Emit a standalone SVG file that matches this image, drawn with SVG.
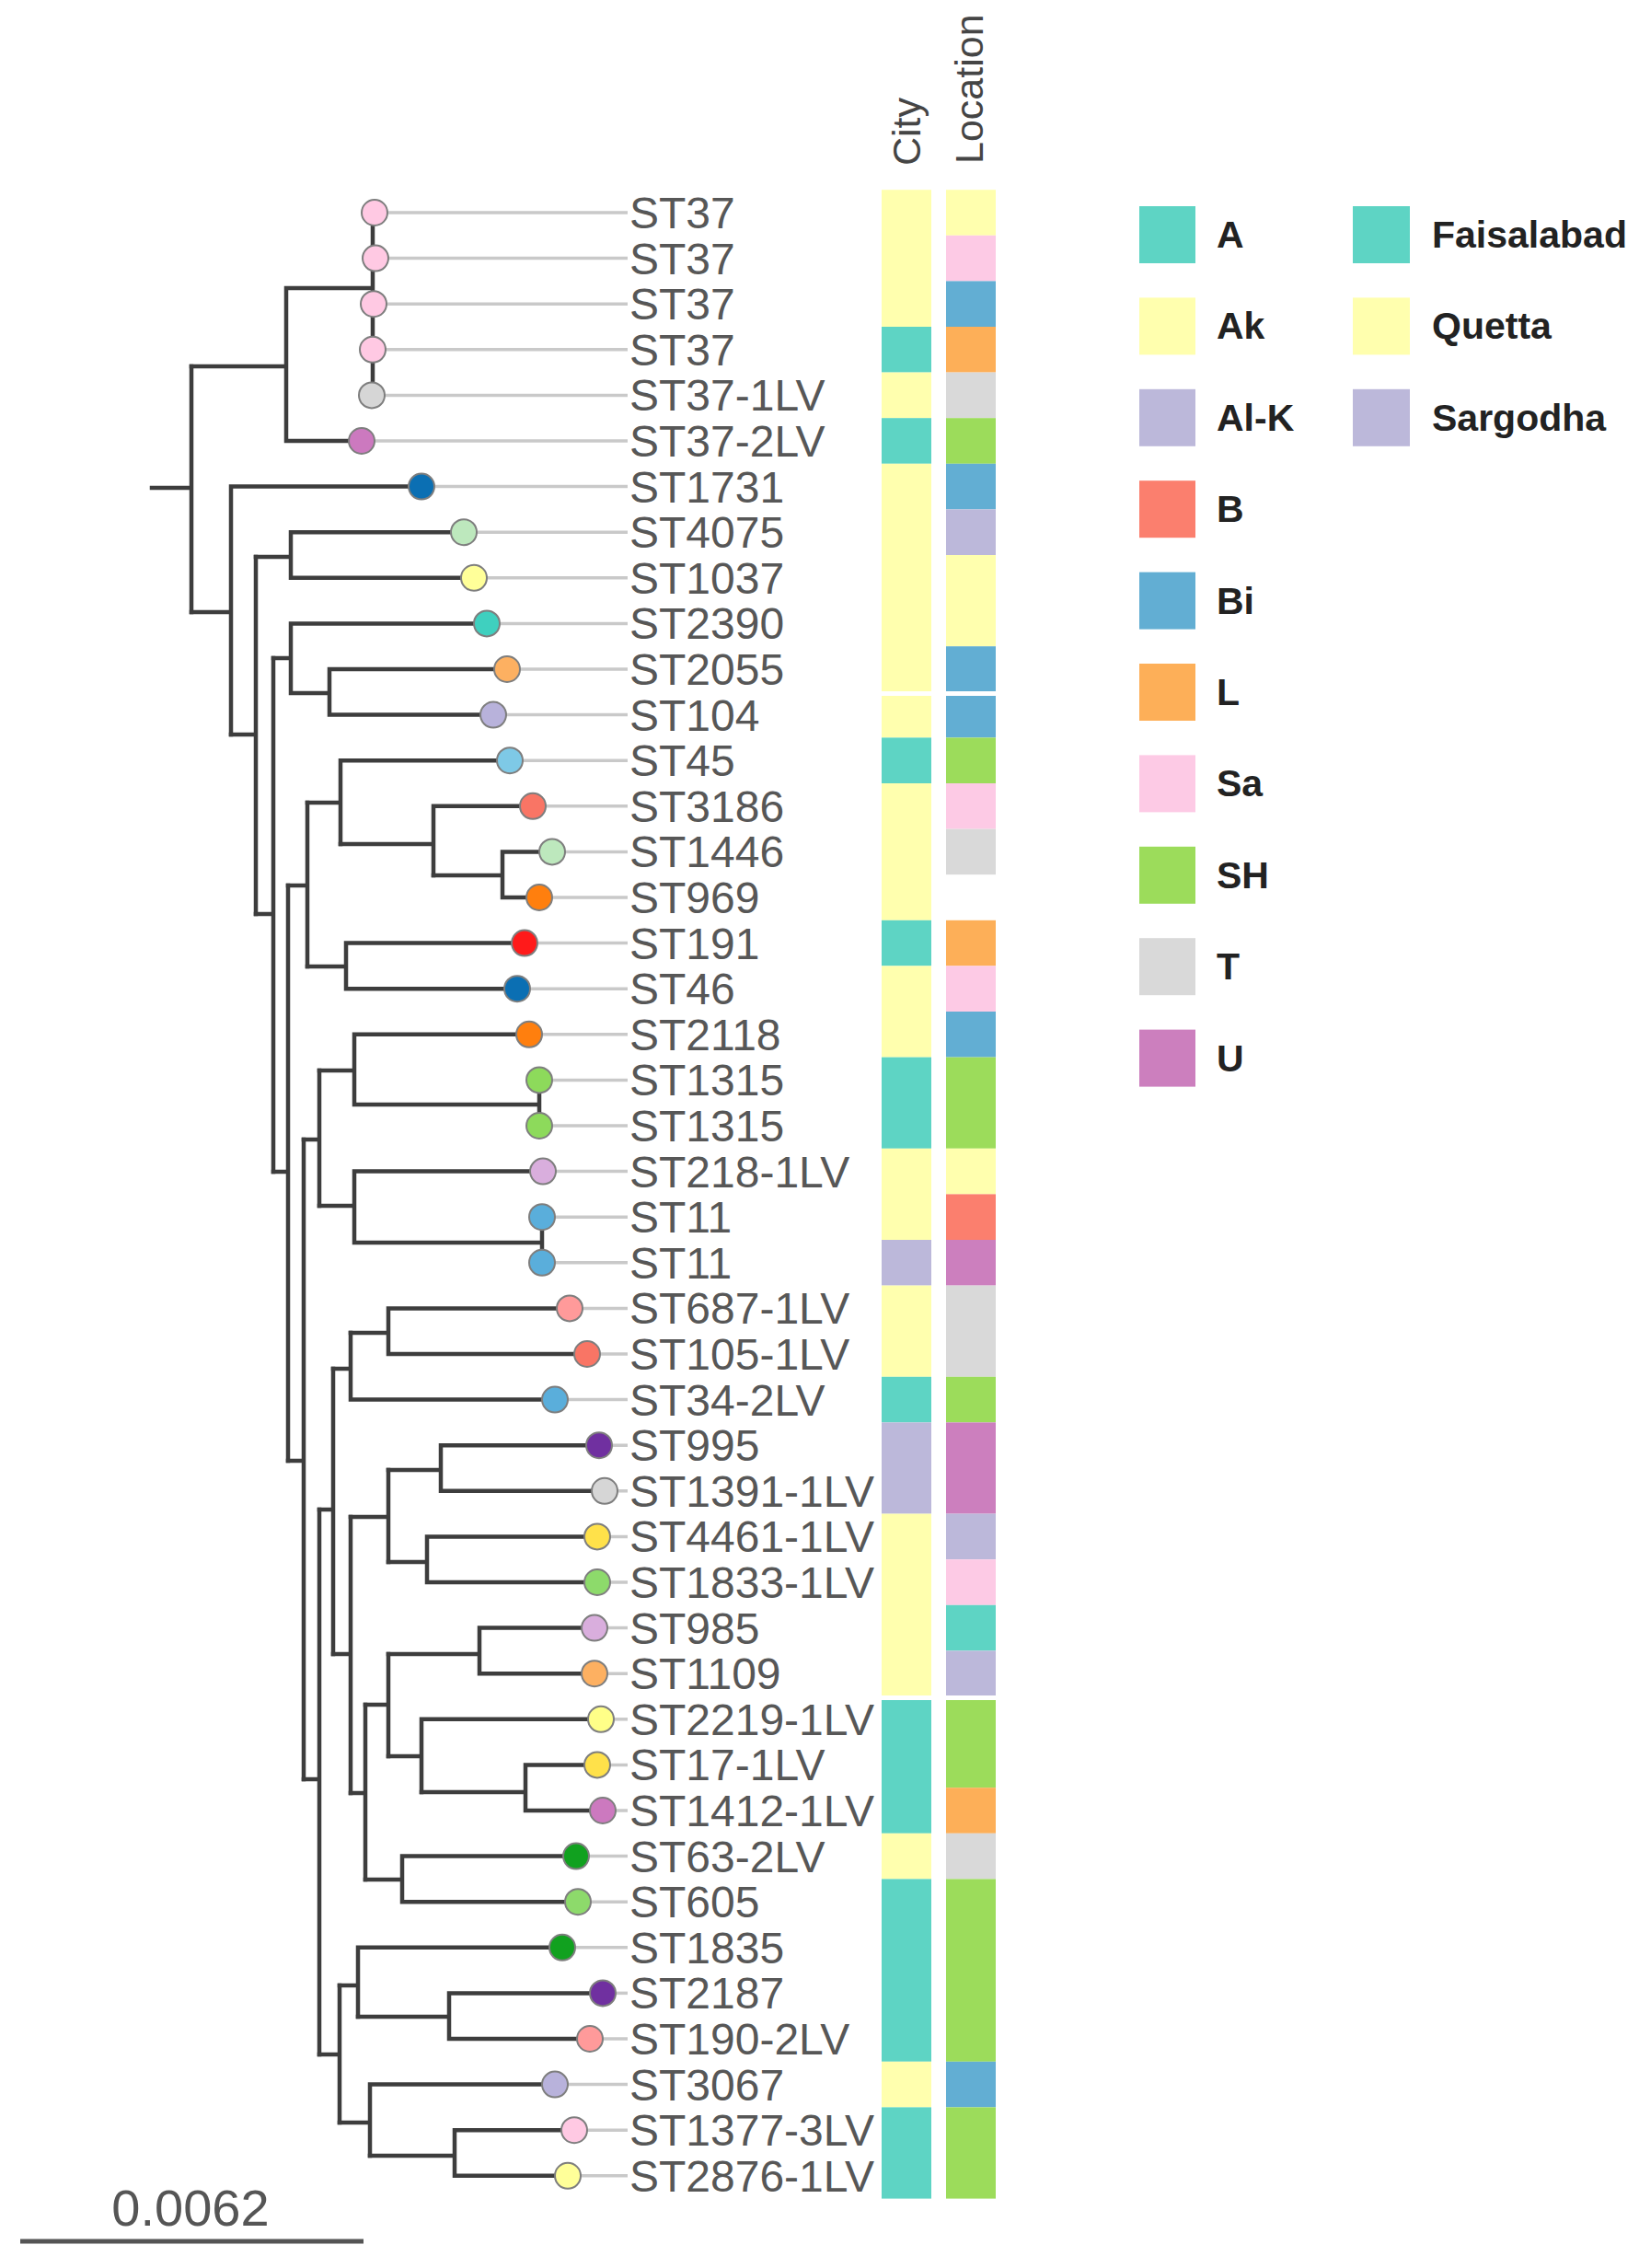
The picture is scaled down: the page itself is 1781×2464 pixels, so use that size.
<svg xmlns="http://www.w3.org/2000/svg" width="1781" height="2464" viewBox="0 0 1781 2464">
<style>
.br{stroke:#3d3d3d;stroke-width:4.5;fill:none;stroke-linecap:square}
.lead{stroke:#c9c9c9;stroke-width:3.5}
.tip{stroke:#7e7e7e;stroke-width:2}
.lbl{font-family:"Liberation Sans",Arial,sans-serif;font-size:48px;fill:#575757}
.hdr{font-family:"Liberation Sans",Arial,sans-serif;font-size:43px;fill:#454545}
.lg{font-family:"Liberation Sans",Arial,sans-serif;font-size:41px;font-weight:bold;fill:#222}
.sc{font-family:"Liberation Sans",Arial,sans-serif;font-size:56px;fill:#555}
.cA{fill:#5ed4c4}.cAk{fill:#ffffae}.cAl{fill:#bcb8da}.cB{fill:#fb7f6e}.cBi{fill:#62aed3}
.cL{fill:#fdaf58}.cSa{fill:#fdcae5}.cSH{fill:#9cdc5b}.cT{fill:#d9d9d9}.cU{fill:#cc7fbe}
</style>
<rect width="1781" height="2464" fill="#fff"/>

<g id="connectors" class="br">
<path d="M165 530 H208 M208 398 V665"/>
<path d="M208 398 H311 M311 313 V479 M311 313 H405 M405 231 V429.4 M311 479 H393"/>
<path d="M208 665 H251 M251 528.6 V798 M251 528.6 H458"/>
<path d="M251 798 H278 M278 605 V993"/>
<path d="M278 605 H316 M316 578.2 V627.8 M316 578.2 H504 M316 627.8 H515"/>
<path d="M278 993 H297 M297 715 V1273"/>
<path d="M297 715 H316 M316 677.4 V753 M316 677.4 H529 M316 753 H358 M358 727 V776.6 M358 727 H551 M358 776.6 H536"/>
<path d="M297 1273 H313 M313 962 V1587"/>
<path d="M313 962 H334 M334 872 V1050"/>
<path d="M334 872 H370 M370 826.2 V917 M370 826.2 H554"/>
<path d="M370 917 H471 M471 875.8 V951 M471 875.8 H579"/>
<path d="M471 951 H546 M546 925.4 V975 M546 925.4 H600 M546 975 H586"/>
<path d="M334 1050 H376 M376 1024.6 V1074.2 M376 1024.6 H570 M376 1074.2 H562"/>
<path d="M313 1587 H330 M330 1238 V1933"/>
<path d="M330 1238 H347 M347 1163 V1310"/>
<path d="M347 1163 H385 M385 1123.8 V1200 M385 1123.8 H575 M385 1200 H586 M586 1173.4 V1223"/>
<path d="M347 1310 H385 M385 1272.6 V1350 M385 1272.6 H590 M385 1350 H589 M589 1322.2 V1371.8"/>
<path d="M330 1933 H347 M347 1640 V2232"/>
<path d="M347 1640 H362 M362 1487 V1797"/>
<path d="M362 1487 H381 M381 1448 V1520.6 M381 1520.6 H603"/>
<path d="M381 1448 H422 M422 1421.4 V1471 M422 1421.4 H619 M422 1471 H638"/>
<path d="M362 1797 H381 M381 1648 V1948"/>
<path d="M381 1648 H422 M422 1597 V1697"/>
<path d="M422 1597 H479 M479 1570.2 V1619.8 M479 1570.2 H651 M479 1619.8 H657"/>
<path d="M422 1697 H464 M464 1669.4 V1719 M464 1669.4 H649 M464 1719 H649"/>
<path d="M381 1948 H397 M397 1852 V2042"/>
<path d="M397 1852 H422 M422 1797 V1908"/>
<path d="M422 1797 H521 M521 1768.6 V1818.2 M521 1768.6 H646 M521 1818.2 H646"/>
<path d="M422 1908 H458 M458 1867.8 V1947 M458 1867.8 H653"/>
<path d="M458 1947 H571 M571 1917.4 V1967 M571 1917.4 H649 M571 1967 H655"/>
<path d="M397 2042 H437 M437 2016.6 V2066.2 M437 2016.6 H626 M437 2066.2 H628"/>
<path d="M347 2232 H369 M369 2157 V2306"/>
<path d="M369 2157 H389 M389 2115.8 V2191 M389 2115.8 H611"/>
<path d="M389 2191 H488 M488 2165.4 V2215 M488 2165.4 H655 M488 2215 H641"/>
<path d="M369 2306 H402 M402 2264.6 V2342 M402 2264.6 H603"/>
<path d="M402 2342 H494 M494 2314.2 V2363.8 M494 2314.2 H624 M494 2363.8 H617"/>
</g>

<g id="leaves">
<g id="leaf01"><line class="lead" x1="407" y1="231" x2="682" y2="231"/><circle class="tip" cx="407" cy="231" r="14" fill="#ffc9e3"/><text class="lbl" x="684" y="248">ST37</text></g>
<g id="leaf02"><line class="lead" x1="408" y1="280.6" x2="682" y2="280.6"/><circle class="tip" cx="408" cy="280.6" r="14" fill="#ffc9e3"/><text class="lbl" x="684" y="297.6">ST37</text></g>
<g id="leaf03"><line class="lead" x1="406" y1="330.2" x2="682" y2="330.2"/><circle class="tip" cx="406" cy="330.2" r="14" fill="#ffc9e3"/><text class="lbl" x="684" y="347.2">ST37</text></g>
<g id="leaf04"><line class="lead" x1="405" y1="379.8" x2="682" y2="379.8"/><circle class="tip" cx="405" cy="379.8" r="14" fill="#ffc9e3"/><text class="lbl" x="684" y="396.8">ST37</text></g>
<g id="leaf05"><line class="lead" x1="404" y1="429.4" x2="682" y2="429.4"/><circle class="tip" cx="404" cy="429.4" r="14" fill="#d6d6d6"/><text class="lbl" x="684" y="446.4">ST37-1LV</text></g>
<g id="leaf06"><line class="lead" x1="393" y1="479" x2="682" y2="479"/><circle class="tip" cx="393" cy="479" r="14" fill="#cc79bf"/><text class="lbl" x="684" y="496">ST37-2LV</text></g>
<g id="leaf07"><line class="lead" x1="458" y1="528.6" x2="682" y2="528.6"/><circle class="tip" cx="458" cy="528.6" r="14" fill="#0b6fb3"/><text class="lbl" x="684" y="545.6">ST1731</text></g>
<g id="leaf08"><line class="lead" x1="504" y1="578.2" x2="682" y2="578.2"/><circle class="tip" cx="504" cy="578.2" r="14" fill="#bde8bd"/><text class="lbl" x="684" y="595.2">ST4075</text></g>
<g id="leaf09"><line class="lead" x1="515" y1="627.8" x2="682" y2="627.8"/><circle class="tip" cx="515" cy="627.8" r="14" fill="#ffff99"/><text class="lbl" x="684" y="644.8">ST1037</text></g>
<g id="leaf10"><line class="lead" x1="529" y1="677.4" x2="682" y2="677.4"/><circle class="tip" cx="529" cy="677.4" r="14" fill="#3fd0bf"/><text class="lbl" x="684" y="694.4">ST2390</text></g>
<g id="leaf11"><line class="lead" x1="551" y1="727" x2="682" y2="727"/><circle class="tip" cx="551" cy="727" r="14" fill="#fdb061"/><text class="lbl" x="684" y="744">ST2055</text></g>
<g id="leaf12"><line class="lead" x1="536" y1="776.6" x2="682" y2="776.6"/><circle class="tip" cx="536" cy="776.6" r="14" fill="#b8b2db"/><text class="lbl" x="684" y="793.6">ST104</text></g>
<g id="leaf13"><line class="lead" x1="554" y1="826.2" x2="682" y2="826.2"/><circle class="tip" cx="554" cy="826.2" r="14" fill="#7ec9e6"/><text class="lbl" x="684" y="843.2">ST45</text></g>
<g id="leaf14"><line class="lead" x1="579" y1="875.8" x2="682" y2="875.8"/><circle class="tip" cx="579" cy="875.8" r="14" fill="#f97565"/><text class="lbl" x="684" y="892.8">ST3186</text></g>
<g id="leaf15"><line class="lead" x1="600" y1="925.4" x2="682" y2="925.4"/><circle class="tip" cx="600" cy="925.4" r="14" fill="#bde8bd"/><text class="lbl" x="684" y="942.4">ST1446</text></g>
<g id="leaf16"><line class="lead" x1="586" y1="975" x2="682" y2="975"/><circle class="tip" cx="586" cy="975" r="14" fill="#ff7f0e"/><text class="lbl" x="684" y="992">ST969</text></g>
<g id="leaf17"><line class="lead" x1="570" y1="1024.6" x2="682" y2="1024.6"/><circle class="tip" cx="570" cy="1024.6" r="14" fill="#ff1a1a"/><text class="lbl" x="684" y="1041.6">ST191</text></g>
<g id="leaf18"><line class="lead" x1="562" y1="1074.2" x2="682" y2="1074.2"/><circle class="tip" cx="562" cy="1074.2" r="14" fill="#0b6fb3"/><text class="lbl" x="684" y="1091.2">ST46</text></g>
<g id="leaf19"><line class="lead" x1="575" y1="1123.8" x2="682" y2="1123.8"/><circle class="tip" cx="575" cy="1123.8" r="14" fill="#ff7f0e"/><text class="lbl" x="684" y="1140.8">ST2118</text></g>
<g id="leaf20"><line class="lead" x1="586" y1="1173.4" x2="682" y2="1173.4"/><circle class="tip" cx="586" cy="1173.4" r="14" fill="#8dda5b"/><text class="lbl" x="684" y="1190.4">ST1315</text></g>
<g id="leaf21"><line class="lead" x1="586" y1="1223" x2="682" y2="1223"/><circle class="tip" cx="586" cy="1223" r="14" fill="#8dda5b"/><text class="lbl" x="684" y="1240">ST1315</text></g>
<g id="leaf22"><line class="lead" x1="590" y1="1272.6" x2="682" y2="1272.6"/><circle class="tip" cx="590" cy="1272.6" r="14" fill="#d9aedd"/><text class="lbl" x="684" y="1289.6">ST218-1LV</text></g>
<g id="leaf23"><line class="lead" x1="589" y1="1322.2" x2="682" y2="1322.2"/><circle class="tip" cx="589" cy="1322.2" r="14" fill="#5aaedb"/><text class="lbl" x="684" y="1339.2">ST11</text></g>
<g id="leaf24"><line class="lead" x1="589" y1="1371.8" x2="682" y2="1371.8"/><circle class="tip" cx="589" cy="1371.8" r="14" fill="#5aaedb"/><text class="lbl" x="684" y="1388.8">ST11</text></g>
<g id="leaf25"><line class="lead" x1="619" y1="1421.4" x2="682" y2="1421.4"/><circle class="tip" cx="619" cy="1421.4" r="14" fill="#ff9a9a"/><text class="lbl" x="684" y="1438.4">ST687-1LV</text></g>
<g id="leaf26"><line class="lead" x1="638" y1="1471" x2="682" y2="1471"/><circle class="tip" cx="638" cy="1471" r="14" fill="#f97565"/><text class="lbl" x="684" y="1488">ST105-1LV</text></g>
<g id="leaf27"><line class="lead" x1="603" y1="1520.6" x2="682" y2="1520.6"/><circle class="tip" cx="603" cy="1520.6" r="14" fill="#5aaedb"/><text class="lbl" x="684" y="1537.6">ST34-2LV</text></g>
<g id="leaf28"><line class="lead" x1="651" y1="1570.2" x2="682" y2="1570.2"/><circle class="tip" cx="651" cy="1570.2" r="14" fill="#7030a0"/><text class="lbl" x="684" y="1587.2">ST995</text></g>
<g id="leaf29"><line class="lead" x1="657" y1="1619.8" x2="682" y2="1619.8"/><circle class="tip" cx="657" cy="1619.8" r="14" fill="#d6d6d6"/><text class="lbl" x="684" y="1636.8">ST1391-1LV</text></g>
<g id="leaf30"><line class="lead" x1="649" y1="1669.4" x2="682" y2="1669.4"/><circle class="tip" cx="649" cy="1669.4" r="14" fill="#ffe14a"/><text class="lbl" x="684" y="1686.4">ST4461-1LV</text></g>
<g id="leaf31"><line class="lead" x1="649" y1="1719" x2="682" y2="1719"/><circle class="tip" cx="649" cy="1719" r="14" fill="#8dda6b"/><text class="lbl" x="684" y="1736">ST1833-1LV</text></g>
<g id="leaf32"><line class="lead" x1="646" y1="1768.6" x2="682" y2="1768.6"/><circle class="tip" cx="646" cy="1768.6" r="14" fill="#d9aedd"/><text class="lbl" x="684" y="1785.6">ST985</text></g>
<g id="leaf33"><line class="lead" x1="646" y1="1818.2" x2="682" y2="1818.2"/><circle class="tip" cx="646" cy="1818.2" r="14" fill="#fdb061"/><text class="lbl" x="684" y="1835.2">ST1109</text></g>
<g id="leaf34"><line class="lead" x1="653" y1="1867.8" x2="682" y2="1867.8"/><circle class="tip" cx="653" cy="1867.8" r="14" fill="#ffff88"/><text class="lbl" x="684" y="1884.8">ST2219-1LV</text></g>
<g id="leaf35"><line class="lead" x1="649" y1="1917.4" x2="682" y2="1917.4"/><circle class="tip" cx="649" cy="1917.4" r="14" fill="#ffe14a"/><text class="lbl" x="684" y="1934.4">ST17-1LV</text></g>
<g id="leaf36"><line class="lead" x1="655" y1="1967" x2="682" y2="1967"/><circle class="tip" cx="655" cy="1967" r="14" fill="#cc79bf"/><text class="lbl" x="684" y="1984">ST1412-1LV</text></g>
<g id="leaf37"><line class="lead" x1="626" y1="2016.6" x2="682" y2="2016.6"/><circle class="tip" cx="626" cy="2016.6" r="14" fill="#11a11f"/><text class="lbl" x="684" y="2033.6">ST63-2LV</text></g>
<g id="leaf38"><line class="lead" x1="628" y1="2066.2" x2="682" y2="2066.2"/><circle class="tip" cx="628" cy="2066.2" r="14" fill="#8dda6b"/><text class="lbl" x="684" y="2083.2">ST605</text></g>
<g id="leaf39"><line class="lead" x1="611" y1="2115.8" x2="682" y2="2115.8"/><circle class="tip" cx="611" cy="2115.8" r="14" fill="#11a11f"/><text class="lbl" x="684" y="2132.8">ST1835</text></g>
<g id="leaf40"><line class="lead" x1="655" y1="2165.4" x2="682" y2="2165.4"/><circle class="tip" cx="655" cy="2165.4" r="14" fill="#7030a0"/><text class="lbl" x="684" y="2182.4">ST2187</text></g>
<g id="leaf41"><line class="lead" x1="641" y1="2215" x2="682" y2="2215"/><circle class="tip" cx="641" cy="2215" r="14" fill="#ff9a9a"/><text class="lbl" x="684" y="2232">ST190-2LV</text></g>
<g id="leaf42"><line class="lead" x1="603" y1="2264.6" x2="682" y2="2264.6"/><circle class="tip" cx="603" cy="2264.6" r="14" fill="#b8b2db"/><text class="lbl" x="684" y="2281.6">ST3067</text></g>
<g id="leaf43"><line class="lead" x1="624" y1="2314.2" x2="682" y2="2314.2"/><circle class="tip" cx="624" cy="2314.2" r="14" fill="#ffc9e3"/><text class="lbl" x="684" y="2331.2">ST1377-3LV</text></g>
<g id="leaf44"><line class="lead" x1="617" y1="2363.8" x2="682" y2="2363.8"/><circle class="tip" cx="617" cy="2363.8" r="14" fill="#ffff99"/><text class="lbl" x="684" y="2380.8">ST2876-1LV</text></g>
</g>

<g id="heatmap-city">
<rect class="cAk" x="958" y="206.2" width="54" height="148.8"/>
<rect class="cA" x="958" y="355" width="54" height="49.6"/>
<rect class="cAk" x="958" y="404.6" width="54" height="49.6"/>
<rect class="cA" x="958" y="454.2" width="54" height="49.6"/>
<rect class="cAk" x="958" y="503.8" width="54" height="297.6"/>
<rect class="cA" x="958" y="801.4" width="54" height="49.6"/>
<rect class="cAk" x="958" y="851" width="54" height="148.8"/>
<rect class="cA" x="958" y="999.8" width="54" height="49.6"/>
<rect class="cAk" x="958" y="1049.4" width="54" height="99.2"/>
<rect class="cA" x="958" y="1148.6" width="54" height="99.2"/>
<rect class="cAk" x="958" y="1247.8" width="54" height="99.2"/>
<rect class="cAl" x="958" y="1347" width="54" height="49.6"/>
<rect class="cAk" x="958" y="1396.6" width="54" height="99.2"/>
<rect class="cA" x="958" y="1495.8" width="54" height="49.6"/>
<rect class="cAl" x="958" y="1545.4" width="54" height="99.2"/>
<rect class="cAk" x="958" y="1644.6" width="54" height="198.4"/>
<rect class="cA" x="958" y="1843" width="54" height="148.8"/>
<rect class="cAk" x="958" y="1991.8" width="54" height="49.6"/>
<rect class="cA" x="958" y="2041.4" width="54" height="198.4"/>
<rect class="cAk" x="958" y="2239.8" width="54" height="49.6"/>
<rect class="cA" x="958" y="2289.4" width="54" height="99.2"/>
<text class="hdr" transform="translate(1000,180) rotate(-90)">City</text>
</g>

<g id="heatmap-location">
<rect class="cAk" x="1028" y="206.2" width="54" height="49.6"/>
<rect class="cSa" x="1028" y="255.8" width="54" height="49.6"/>
<rect class="cBi" x="1028" y="305.4" width="54" height="49.6"/>
<rect class="cL" x="1028" y="355" width="54" height="49.6"/>
<rect class="cT" x="1028" y="404.6" width="54" height="49.6"/>
<rect class="cSH" x="1028" y="454.2" width="54" height="49.6"/>
<rect class="cBi" x="1028" y="503.8" width="54" height="49.6"/>
<rect class="cAl" x="1028" y="553.4" width="54" height="49.6"/>
<rect class="cAk" x="1028" y="603" width="54" height="99.2"/>
<rect class="cBi" x="1028" y="702.2" width="54" height="99.2"/>
<rect class="cSH" x="1028" y="801.4" width="54" height="49.6"/>
<rect class="cSa" x="1028" y="851" width="54" height="49.6"/>
<rect class="cT" x="1028" y="900.6" width="54" height="49.6"/>
<rect class="cL" x="1028" y="999.8" width="54" height="49.6"/>
<rect class="cSa" x="1028" y="1049.4" width="54" height="49.6"/>
<rect class="cBi" x="1028" y="1099" width="54" height="49.6"/>
<rect class="cSH" x="1028" y="1148.6" width="54" height="99.2"/>
<rect class="cAk" x="1028" y="1247.8" width="54" height="49.6"/>
<rect class="cB" x="1028" y="1297.4" width="54" height="49.6"/>
<rect class="cU" x="1028" y="1347" width="54" height="49.6"/>
<rect class="cT" x="1028" y="1396.6" width="54" height="99.2"/>
<rect class="cSH" x="1028" y="1495.8" width="54" height="49.6"/>
<rect class="cU" x="1028" y="1545.4" width="54" height="99.2"/>
<rect class="cAl" x="1028" y="1644.6" width="54" height="49.6"/>
<rect class="cSa" x="1028" y="1694.2" width="54" height="49.6"/>
<rect class="cA" x="1028" y="1743.8" width="54" height="49.6"/>
<rect class="cAl" x="1028" y="1793.4" width="54" height="49.6"/>
<rect class="cSH" x="1028" y="1843" width="54" height="99.2"/>
<rect class="cL" x="1028" y="1942.2" width="54" height="49.6"/>
<rect class="cT" x="1028" y="1991.8" width="54" height="49.6"/>
<rect class="cSH" x="1028" y="2041.4" width="54" height="198.4"/>
<rect class="cBi" x="1028" y="2239.8" width="54" height="49.6"/>
<rect class="cSH" x="1028" y="2289.4" width="54" height="99.2"/>
<text class="hdr" transform="translate(1068,178) rotate(-90)">Location</text>
</g>

<g id="heatmap-gaps" fill="#fff">
<rect x="955" y="751" width="130" height="5"/>
<rect x="955" y="1842" width="130" height="5"/>
</g>

<g id="legend">
<rect class="cA" x="1238" y="224" width="61" height="62"/><text class="lg" x="1322" y="269">A</text>
<rect class="cAk" x="1238" y="323.4" width="61" height="62"/><text class="lg" x="1322" y="368.4">Ak</text>
<rect class="cAl" x="1238" y="422.8" width="61" height="62"/><text class="lg" x="1322" y="467.8">Al-K</text>
<rect class="cB" x="1238" y="522.2" width="61" height="62"/><text class="lg" x="1322" y="567.2">B</text>
<rect class="cBi" x="1238" y="621.6" width="61" height="62"/><text class="lg" x="1322" y="666.6">Bi</text>
<rect class="cL" x="1238" y="721" width="61" height="62"/><text class="lg" x="1322" y="766">L</text>
<rect class="cSa" x="1238" y="820.4" width="61" height="62"/><text class="lg" x="1322" y="865.4">Sa</text>
<rect class="cSH" x="1238" y="919.8" width="61" height="62"/><text class="lg" x="1322" y="964.8">SH</text>
<rect class="cT" x="1238" y="1019.2" width="61" height="62"/><text class="lg" x="1322" y="1064.2">T</text>
<rect class="cU" x="1238" y="1118.6" width="61" height="62"/><text class="lg" x="1322" y="1163.6">U</text>
<rect class="cA" x="1470" y="224" width="62" height="62"/><text class="lg" x="1556" y="269">Faisalabad</text>
<rect class="cAk" x="1470" y="323.4" width="62" height="62"/><text class="lg" x="1556" y="368.4">Quetta</text>
<rect class="cAl" x="1470" y="422.8" width="62" height="62"/><text class="lg" x="1556" y="467.8">Sargodha</text>
</g>

<g id="scale-bar">
<line x1="22" y1="2435" x2="395" y2="2435" stroke="#555" stroke-width="5"/>
<text class="sc" x="207" y="2418" text-anchor="middle">0.0062</text>
</g>
</svg>
